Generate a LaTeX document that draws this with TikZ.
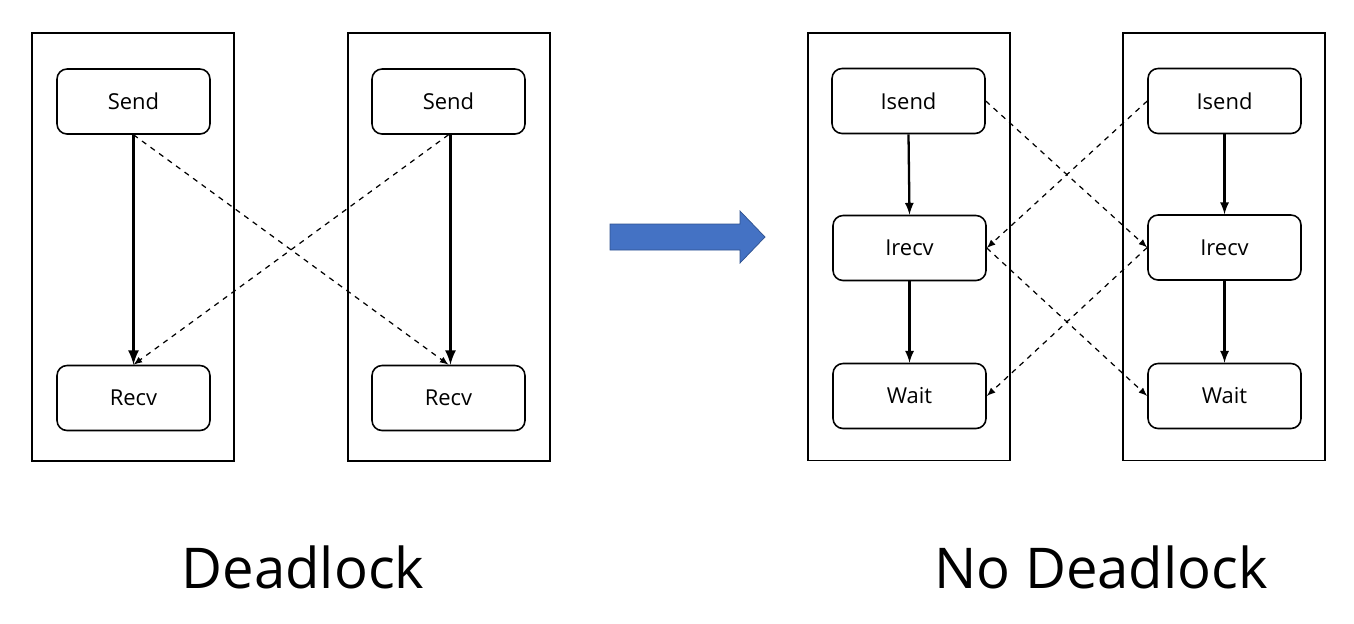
\documentclass[tikz,border=0pt]{standalone}
\usepackage{fontspec}
\setmainfont{Open Sans}
\definecolor{myblue}{RGB}{68,114,196}
\definecolor{mydarkblue}{RGB}{47,82,143}
\usetikzlibrary{arrows,positioning}

\begin{document}
\begin{tikzpicture}[
  x=0.02cm,
  y=-0.02cm,
  proc/.style={
    draw,
    line width=1.1pt,
    minimum width=4.04cm,
    minimum height=8.56cm
    },
  call/.style={
    draw,
    line width=0.9pt,
    rounded corners=0.2cm,
    minimum width=3.06cm,
    minimum height=1.3cm,
    font=\fontsize{12.5}{14}\selectfont
    },
  blocking/.style={-latex, line width=1.8pt},
  local/.style={-latex, line width=1.3pt},
  message/.style={-latex, dashed, line width=0.7pt},
  title/.style={font=\fontsize{32}{38}\selectfont}
]
\useasboundingbox (0,0) rectangle (1354,623);

% deadlock
\node[proc] (p0) at (133,247) {};
\node[proc] (p1) at (449,247) {};

\node[call] (send0) at (133.5,101.5) {Send};
\node[call] (recv0) at (133.5,398) {Recv};
\node[call] (send1) at (448.5,101.5) {Send};
\node[call] (recv1) at (448.5,398) {Recv};

\draw[blocking] (send0.south) -- (recv0.north);
\draw[blocking] ([xshift=0.04cm]send1.south) -- ([xshift=0.04cm]recv1.north);
\draw[message] (send0.south) -- (recv1.north);
\draw[message] (send1.south) -- (recv0.north);

\node[title] (title0) at (303,567) {Deadlock};

% arrow between the two
\filldraw[fill=myblue, draw=mydarkblue, line width=0.4pt]
  (610,224) -- (740,224) -- (740,211) -- (765,237) -- (740,263)
  -- (740,250) -- (610,250) -- cycle;

% no deadlock
\node[proc] (p2) at (909,246.5) {};
\node[proc] (p3) at (1224,246.5) {};

\node[call] (isend2) at (908.5,101) {Isend};
\node[call] (irecv2) at (909.5,248) {Irecv};
\node[call] (wait2) at (909.5,396) {Wait};
\node[call] (isend3) at (1224.5,101) {Isend};
\node[call] (irecv3) at (1224.5,247.5) {Irecv};
\node[call] (wait3) at (1224.5,396) {Wait};

\draw[local] (isend2.south) -- (irecv2.north);
\draw[local] (irecv2.south) -- (wait2.north);
\draw[local] (isend3.south) -- (irecv3.north);
\draw[local] (irecv3.south) -- (wait3.north);

\draw[message] (isend2.east) -- (irecv3.west);
\draw[message] (isend3.west) -- (irecv2.east);
\draw[message] (irecv2.east) -- (wait3.west);
\draw[message] (irecv3.west) -- (wait2.east);

\node[title] (title1) at (1101,567) {No Deadlock};
\end{tikzpicture}
\end{document}
